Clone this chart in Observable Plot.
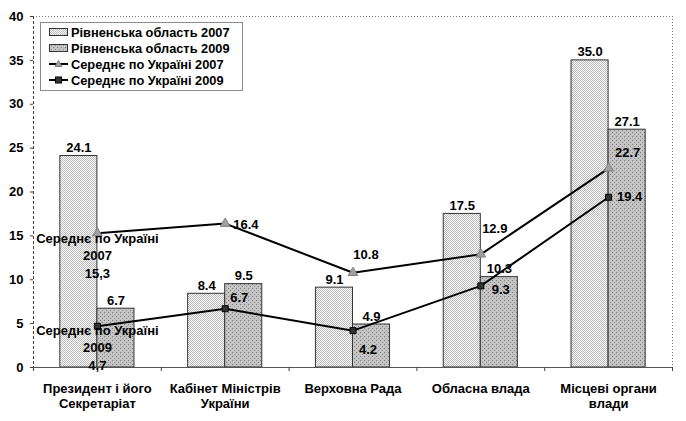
<!DOCTYPE html>
<html>
<head>
<meta charset="utf-8">
<script src="https://cdn.jsdelivr.net/npm/d3@7"></script>
<script src="https://cdn.jsdelivr.net/npm/@observablehq/plot@0.6"></script>
<style>
  body { margin: 0; background: #fff; font-family: "Liberation Sans", Arial, sans-serif; }
  #wrap { position: relative; width: 686px; height: 421px; }
  #legend { position: absolute; left: 40px; top: 22px; width: 201px; height: 66px;
    border: 1px solid #8a8a8a; background: #fff; font: bold 12.8px "Liberation Sans", Arial, sans-serif; color: #000; }
  #legend .row { display: flex; align-items: center; height: 16px; margin-left: 8px; }
  #legend svg { margin-right: 3px; }
</style>
</head>
<body>
<div id="wrap"></div>
<script>
const categories = ["Президент і його\nСекретаріат", "Кабінет Міністрів\nУкраїни", "Верховна Рада", "Обласна влада", "Місцеві органи\nвлади"];
const rivne2007 = [24.1, 8.4, 9.1, 17.5, 35.0];
const rivne2009 = [6.7, 9.5, 4.9, 10.3, 27.1];
const ukraine2007 = [15.3, 16.4, 10.8, 12.9, 22.7];
const ukraine2009 = [4.7, 6.7, 4.2, 9.3, 19.4];
const seriesNames = ["Рівненська область 2007", "Рівненська область 2009", "Середнє по Україні 2007", "Середнє по Україні 2009"];
const yTicks = [0, 5, 10, 15, 20, 25, 30, 35, 40];

const FONT = "Liberation Sans, Arial, sans-serif";
const FS = 13;
const half = 0.29; // bar width in category units
const idx = categories.map((c, i) => i);
const centers = idx.map(i => i + 0.5);
const bounds = d3.range(categories.length + 1);

const bars07 = idx.map(i => ({x1: i + 0.5 - half, x2: i + 0.5, y: rivne2007[i], c: i + 0.5 - half / 2}));
const bars09 = idx.map(i => ({x1: i + 0.5, x2: i + 0.5 + half, y: rivne2009[i], c: i + 0.5 + half / 2}));
const l07 = idx.map(i => ({x: i + 0.5, y: ukraine2007[i], i}));
const l09 = idx.map(i => ({x: i + 0.5, y: ukraine2009[i], i}));

const txt = {fontFamily: FONT, fontSize: FS, fontWeight: "bold", fill: "#000"};
function lab(data, i, opts, text) {
  return Plot.text([data[i]], {x: "x", y: "y", text: text || (d => d.y.toFixed(1)), ...txt, ...opts});
}

const plot = Plot.plot({
  width: 686,
  height: 421,
  marginLeft: 33,
  marginRight: 14,
  marginTop: 16,
  marginBottom: 54,
  style: {fontFamily: FONT, background: "#fff", overflow: "visible"},
  x: {type: "linear", domain: [0, categories.length]},
  y: {domain: [0, 40]},
  marks: [
    // frame
    Plot.ruleY([40], {stroke: "#777", strokeDasharray: "1,2"}),
    Plot.ruleX([categories.length], {stroke: "#777", strokeDasharray: "1,2"}),
    Plot.ruleX([0], {stroke: "#444", strokeDasharray: "3,2"}),
    // bars
    Plot.rectY(bars07, {x1: "x1", x2: "x2", y: "y", fill: "url(#patLight)", stroke: "#333", strokeWidth: 1}),
    Plot.rectY(bars09, {x1: "x1", x2: "x2", y: "y", fill: "url(#patDark)", stroke: "#333", strokeWidth: 1}),
    Plot.ruleY([0], {stroke: "#555", strokeWidth: 1.2}),
    // bar labels
    Plot.text(bars07, {x: "c", y: "y", text: d => d.y.toFixed(1), lineAnchor: "bottom", dy: -4, ...txt}),
    Plot.text(bars09, {x: "c", y: "y", text: d => d.y.toFixed(1), lineAnchor: "bottom", dy: -4, ...txt}),
    // lines
    Plot.line(l07, {x: "x", y: "y", stroke: "#000", strokeWidth: 2}),
    Plot.line(l09, {x: "x", y: "y", stroke: "#000", strokeWidth: 2}),
    Plot.dot(l07, {x: "x", y: "y", symbol: "triangle", r: 3.6, fill: "#a0a0a0", stroke: "#808080", strokeWidth: 1}),
    Plot.dot(l09, {x: "x", y: "y", symbol: "square", r: 3.4, fill: "#333", stroke: "#000", strokeWidth: 1}),
    // line labels 2007
    lab(l07, 0, {lineAnchor: "top", dy: -3, lineHeight: 1.35}, d => "Середнє по Україні\n2007\n" + d.y.toFixed(1).replace(".", ",")),
    lab(l07, 1, {textAnchor: "start", dx: 8, dy: 1}),
    lab(l07, 2, {dx: 13, dy: -18}),
    lab(l07, 3, {dx: 14, dy: -25}),
    lab(l07, 4, {dx: 19, dy: -15}),
    // line labels 2009
    lab(l09, 0, {lineAnchor: "top", dy: -4, lineHeight: 1.35}, d => "Середнє по Україні\n2009\n" + d.y.toFixed(1).replace(".", ",")),
    lab(l09, 1, {dx: 14, dy: -11}),
    lab(l09, 2, {dx: 15, dy: 19}),
    lab(l09, 3, {dx: 20, dy: 4}),
    lab(l09, 4, {dx: 21, dy: 0}),
    // axes
    Plot.axisY({ticks: yTicks, tickSize: 3, tickPadding: 7, fontSize: FS, fontWeight: "bold", fill: "#000", stroke: "#444", label: null}),
    Plot.axisX({ticks: bounds, tickSize: 4, tickFormat: () => "", stroke: "#444", label: null}),
    Plot.axisX({ticks: centers, tickSize: 0, tickPadding: 15, tickFormat: v => categories[Math.round(v - 0.5)],
      fontSize: FS, fontWeight: "bold", fill: "#000", lineHeight: 1.15, label: null})
  ]
});

const ns = "http://www.w3.org/2000/svg";
const defs = document.createElementNS(ns, "defs");
defs.innerHTML = `
  <pattern id="patLight" width="2" height="2" patternUnits="userSpaceOnUse">
    <rect width="2" height="2" fill="#ffffff"/>
    <rect width="1" height="1" fill="#b8b8b8"/>
    <rect x="1" y="1" width="1" height="1" fill="#b8b8b8"/>
  </pattern>
  <pattern id="patDark" width="4" height="4" patternUnits="userSpaceOnUse">
    <rect width="4" height="4" fill="#c4c4c4"/>
    <rect width="1" height="1" fill="#7a7a7a"/>
    <rect x="2" y="2" width="1" height="1" fill="#8a8a8a"/>
  </pattern>`;
plot.insertBefore(defs, plot.firstChild);

const wrap = document.getElementById("wrap");
wrap.appendChild(plot);

const legend = document.createElement("div");
legend.id = "legend";
legend.style.paddingTop = "1px";
const sw = [
  `<svg width="19" height="10"><rect x="0.5" y="1.5" width="18" height="7" fill="url(#patLight)" stroke="#333"/></svg>`,
  `<svg width="19" height="10"><rect x="0.5" y="1.5" width="18" height="7" fill="url(#patDark)" stroke="#333"/></svg>`,
  `<svg width="19" height="10"><line x1="0" y1="5" x2="19" y2="5" stroke="#000" stroke-width="2"/><path d="M9.5,1.5 L13,7.5 L6,7.5 Z" fill="#a0a0a0" stroke="#808080"/></svg>`,
  `<svg width="19" height="10"><line x1="0" y1="5" x2="19" y2="5" stroke="#000" stroke-width="2"/><rect x="6.5" y="2" width="6" height="6" fill="#333" stroke="#000"/></svg>`
];
legend.innerHTML = seriesNames.map((n, i) => `<div class="row">${sw[i]}<span>${n}</span></div>`).join("");
wrap.appendChild(legend);
</script>
</body>
</html>
